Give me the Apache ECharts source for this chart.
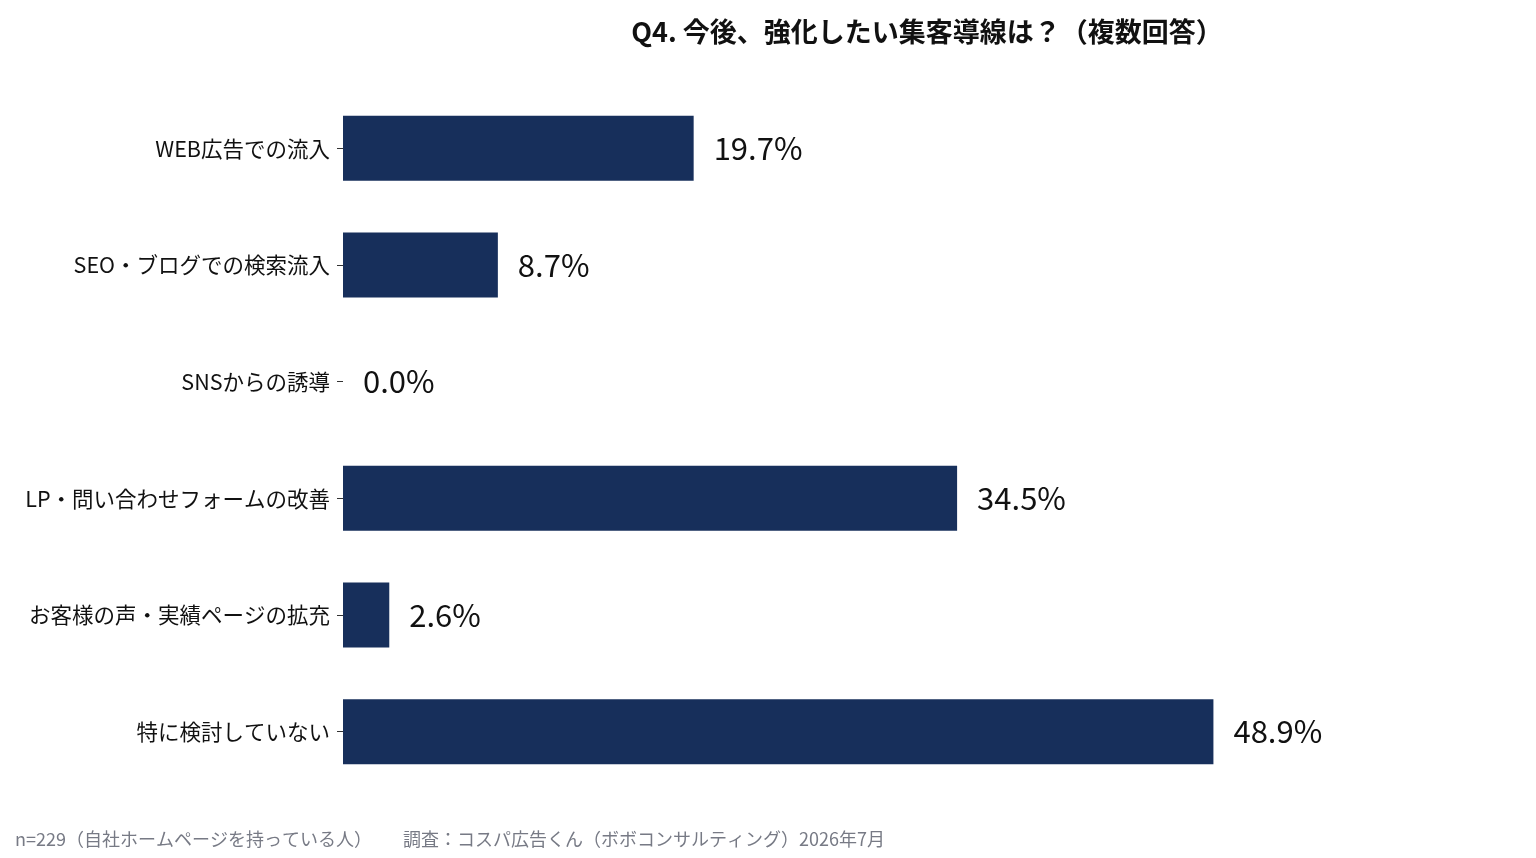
<!DOCTYPE html>
<html><head><meta charset="utf-8">
<script src="https://cdn.jsdelivr.net/npm/echarts@6/dist/echarts.min.js"></script>
<style>html,body{margin:0;padding:0;background:#fff}#c{width:1536px;height:858px}</style>
</head><body><div id="c"></div>
<script>
const categories = ["WEB広告での流入","SEO・ブログでの検索流入","SNSからの誘導","LP・問い合わせフォームの改善","お客様の声・実績ページの拡充","特に検討していない"];
const values = [19.7, 8.7, 0.0, 34.5, 2.6, 48.9];
const titleText = "Q4. 今後、強化したい集客導線は？（複数回答）";
const footnote = "n=229（自社ホームページを持っている人）　　 調査：コスパ広告くん（ボボコンサルティング）2026年7月";
const FONT = '"Noto Sans CJK JP", "Noto Sans", sans-serif';
const chart = echarts.init(document.getElementById('c'));
chart.setOption({
  backgroundColor:'#fff',
  animation:false,
  title:[{text:titleText,left:922,textAlign:'center',top:13,textStyle:{fontFamily:FONT,fontSize:27,fontWeight:'bold',color:'#111'}},
         {text:footnote,left:10,top:825,textStyle:{fontFamily:FONT,fontSize:18,fontWeight:'normal',color:'#777a85'}}],
  grid:{left:343,right:36,top:90,bottom:68,containLabel:false},
  xAxis:{type:'value',min:0,max:65,show:false},
  yAxis:{type:'category',data:categories,inverse:true,
    axisLine:{show:false},
    axisTick:{show:true,length:6,alignWithLabel:true,lineStyle:{color:'#333',width:1}},
    axisLabel:{fontFamily:FONT,fontSize:21.5,color:'#111',margin:13}},
  series:[{type:'bar',data:values,barWidth:65,itemStyle:{color:'#172f5b'},
    label:{show:true,position:'right',distance:20,formatter:p=>p.value.toFixed(1)+'%',fontFamily:FONT,fontSize:31,color:'#111'}}]
});
</script></body></html>
